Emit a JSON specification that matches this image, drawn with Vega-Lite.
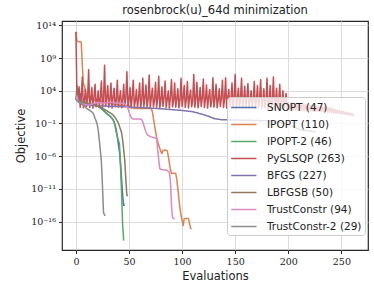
{
"$schema":"https://vega.github.io/schema/vega-lite/v6.json",
"width":306,"height":229,
"autosize":{"type":"none"},
"padding":{"left":62,"top":21,"right":6,"bottom":45},
"title":{"text":"rosenbrock(u)_64d minimization","fontSize":11.5,"font":"DejaVu Sans","fontWeight":"normal","color":"#222222","offset":4},
"datasets":{
"names":[{"k":"a","label":"SNOPT (47)"},{"k":"b","label":"IPOPT (110)"},{"k":"c","label":"IPOPT-2 (46)"},{"k":"d","label":"PySLSQP (263)"},{"k":"e","label":"BFGS (227)"},{"k":"f","label":"LBFGSB (50)"},{"k":"g","label":"TrustConstr (94)"},{"k":"h","label":"TrustConstr-2 (29)"}],
"runs":[
{"x":0,"a":2.6,"b":13,"c":2.6,"d":13,"e":2.6,"f":2.6,"g":2.6,"h":2.6},
{"x":1,"a":3.3,"b":11.6,"c":4.8,"d":3.0,"e":3.0,"f":3.4,"g":3.2,"h":2.5},
{"x":2,"a":4.3,"b":11.5,"c":2.7,"d":2.6,"e":2.3,"f":2.8,"g":2.4,"h":2.4},
{"x":3,"a":2.5,"b":11.5,"c":3.5,"d":4.6,"e":2.2,"f":2.5,"g":2.3,"h":2.3},
{"x":4,"a":3.6,"b":11.5,"c":2.4,"d":1.5,"e":2.1,"f":2.45,"g":2.2,"h":2.2},
{"x":5,"a":2.3,"b":11.4,"c":2.3,"d":2.8,"e":2.0,"f":2.4,"g":2.15,"h":2.1},
{"x":6,"a":2.25,"b":8.0,"c":2.3,"d":6.1,"e":1.95,"f":2.35,"g":2.1,"h":2.0},
{"x":7,"a":2.2,"b":5.0,"c":2.2,"d":1.4,"e":1.9,"f":2.3,"g":2.0,"h":1.85},
{"x":8,"a":2.15,"b":4.8,"c":2.2,"d":2.6,"e":1.85,"f":2.25,"g":1.95,"h":1.7},
{"x":9,"a":2.1,"b":3.8,"c":2.1,"d":4.2,"e":1.82,"f":2.2,"g":1.9,"h":1.5},
{"x":10,"a":2.05,"b":3.2,"c":2.05,"d":1.6,"e":1.8,"f":2.15,"g":1.85,"h":1.3},
{"x":11,"a":2.0,"b":3.0,"c":2.0,"d":2.9,"e":1.79,"f":2.1,"g":1.82,"h":1.2},
{"x":12,"a":1.98,"b":3.3,"c":2.0,"d":7.2,"e":1.78,"f":2.05,"g":1.8,"h":1.1},
{"x":13,"a":1.95,"b":2.9,"c":1.95,"d":1.45,"e":1.77,"f":2.0,"g":1.85,"h":1.0},
{"x":14,"a":1.92,"b":2.8,"c":1.9,"d":2.7,"e":1.76,"f":1.95,"g":1.9,"h":0.9},
{"x":15,"a":1.9,"b":2.7,"c":1.9,"d":4.5,"e":1.75,"f":1.9,"g":1.95,"h":0.77},
{"x":16,"a":1.88,"b":2.7,"c":1.85,"d":1.35,"e":1.74,"f":1.88,"g":2.0,"h":0.6},
{"x":17,"a":1.85,"b":2.6,"c":1.8,"d":3.0,"e":1.73,"f":1.85,"g":2.05,"h":0.3},
{"x":18,"a":1.83,"b":2.6,"c":1.8,"d":5.0,"e":1.72,"f":1.82,"g":2.1,"h":-0.24},
{"x":19,"a":1.8,"b":2.5,"c":1.75,"d":1.55,"e":1.71,"f":1.8,"g":2.15,"h":-0.6},
{"x":20,"a":1.75,"b":2.5,"c":1.7,"d":2.5,"e":1.7,"f":1.75,"g":2.2,"h":-1.1},
{"x":21,"a":1.65,"b":2.45,"c":1.6,"d":4.0,"e":1.7,"f":1.7,"g":2.2,"h":-2.0},
{"x":22,"a":1.5,"b":2.4,"c":1.5,"d":1.5,"e":1.69,"f":1.62,"g":2.2,"h":-3.5},
{"x":23,"a":1.4,"b":2.4,"c":1.4,"d":2.8,"e":1.69,"f":1.55,"g":2.2,"h":-5.1},
{"x":24,"a":1.3,"b":2.35,"c":1.25,"d":5.5,"e":1.68,"f":1.45,"g":2.2,"h":-6.8},
{"x":25,"a":1.15,"b":2.3,"c":1.1,"d":1.4,"e":1.68,"f":1.35,"g":2.15,"h":-10.5},
{"x":26,"a":1.0,"b":2.3,"c":1.0,"d":2.6,"e":1.67,"f":1.25,"g":2.15,"h":-14.6},
{"x":27,"a":0.85,"b":2.25,"c":0.85,"d":7.9,"e":1.67,"f":1.15,"g":2.15,"h":-15.0},
{"x":28,"a":0.7,"b":2.2,"c":0.7,"d":1.6,"e":1.66,"f":1.05,"g":2.15,"h":-15.05},
{"x":29,"a":0.55,"b":2.2,"c":0.55,"d":2.9,"e":1.66,"f":0.95,"g":2.15},
{"x":30,"a":0.4,"b":2.15,"c":0.4,"d":4.8,"e":1.65,"f":0.85,"g":2.2},
{"x":31,"a":0.25,"b":2.1,"c":0.3,"d":1.45,"e":1.65,"f":0.75,"g":2.2},
{"x":32,"a":0.1,"b":2.1,"c":0.15,"d":2.7,"e":1.64,"f":0.65,"g":2.2},
{"x":33,"a":-0.05,"b":2.05,"c":0.0,"d":5.2,"e":1.64,"f":0.55,"g":2.2},
{"x":34,"a":-0.25,"b":2.0,"c":-0.2,"d":1.35,"e":1.63,"f":0.45,"g":2.2},
{"x":35,"a":-0.45,"b":2.0,"c":-0.4,"d":3.0,"e":1.63,"f":0.3,"g":2.2},
{"x":36,"a":-0.8,"b":1.95,"c":-0.8,"d":4.4,"e":1.62,"f":0.1,"g":2.15},
{"x":37,"a":-1.3,"b":1.9,"c":-1.5,"d":1.55,"e":1.62,"f":-0.1,"g":2.15},
{"x":38,"a":-2.0,"b":1.9,"c":-2.3,"d":2.5,"e":1.61,"f":-0.35,"g":2.1},
{"x":39,"a":-3.0,"b":1.85,"c":-3.0,"d":5.6,"e":1.61,"f":-0.65,"g":2.1},
{"x":40,"a":-4.2,"b":1.85,"c":-3.6,"d":1.5,"e":1.6,"f":-0.95,"g":2.1},
{"x":41,"a":-5.3,"b":1.8,"c":-4.1,"d":2.8,"e":1.59,"f":-1.4,"g":2.1},
{"x":42,"a":-7.0,"b":1.8,"c":-7.5,"d":4.0,"e":1.58,"f":-1.9,"g":2.05},
{"x":43,"a":-9.5,"b":1.8,"c":-11.5,"d":1.4,"e":1.58,"f":-2.4,"g":2.05},
{"x":44,"a":-12.0,"b":1.8,"c":-16.5,"d":2.6,"e":1.57,"f":-3.5,"g":2.05},
{"x":45,"a":-13.5,"b":1.8,"c":-18.9,"d":5.0,"e":1.56,"f":-5.0,"g":2.05},
{"x":46,"a":-13.5,"b":1.8,"d":1.6,"e":1.55,"f":-6.6,"g":2.0},
{"x":47,"b":1.75,"d":2.9,"e":1.54,"f":-9.5,"g":1.8},
{"x":48,"b":1.75,"d":6.9,"e":1.54,"f":-12.0,"g":1.5},
{"x":49,"b":1.7,"d":1.45,"e":1.53,"f":-12.0,"g":1.3},
{"x":50,"b":1.7,"d":2.7,"e":1.52,"g":0.8},
{"x":51,"b":1.6,"d":4.5,"e":1.51,"g":0.3},
{"x":52,"b":1.5,"d":1.35,"e":1.5,"g":-0.1},
{"x":53,"b":1.4,"d":3.0,"e":1.5,"g":-0.25},
{"x":54,"b":1.35,"d":5.6,"e":1.49,"g":-0.3},
{"x":55,"b":1.3,"d":1.55,"e":1.48,"g":-0.3},
{"x":56,"b":1.3,"d":2.5,"e":1.47,"g":-0.3},
{"x":57,"b":1.3,"d":4.2,"e":1.46,"g":-0.3},
{"x":58,"b":1.3,"d":1.5,"e":1.46,"g":-0.3},
{"x":59,"b":1.3,"d":2.8,"e":1.45,"g":-0.3},
{"x":60,"b":1.3,"d":5.2,"e":1.44,"g":-0.3},
{"x":61,"b":1.3,"d":1.4,"e":1.43,"g":-0.35},
{"x":62,"b":1.3,"d":2.6,"e":1.42,"g":-0.4},
{"x":63,"b":1.3,"d":5.9,"e":1.41,"g":-0.76},
{"x":64,"b":1.3,"d":1.6,"e":1.4,"g":-1.3},
{"x":65,"b":1.3,"d":2.9,"e":1.39,"g":-1.8},
{"x":66,"b":1.3,"d":4.9,"e":1.38,"g":-2.3},
{"x":67,"b":1.3,"d":1.45,"e":1.37,"g":-2.6},
{"x":68,"b":1.3,"d":2.7,"e":1.36,"g":-2.8},
{"x":69,"b":1.3,"d":6.4,"e":1.35,"g":-2.9},
{"x":70,"b":1.3,"d":1.35,"e":1.35,"g":-3.0},
{"x":71,"b":1.3,"d":3.0,"e":1.34,"g":-3.05},
{"x":72,"b":0.8,"d":4.4,"e":1.33,"g":-3.1},
{"x":73,"b":-0.2,"d":1.55,"e":1.32,"g":-3.15},
{"x":74,"b":-1.26,"d":2.5,"e":1.31,"g":-3.2},
{"x":75,"b":-2.2,"d":5.3,"e":1.3,"g":-3.25},
{"x":76,"b":-3.1,"d":1.5,"e":1.29,"g":-3.3},
{"x":77,"b":-3.8,"d":2.8,"e":1.28,"g":-5.0},
{"x":78,"b":-4.3,"d":6.2,"e":1.27,"g":-6.5},
{"x":79,"b":-4.8,"d":1.4,"e":1.26,"g":-7.9},
{"x":80,"b":-5.3,"d":2.6,"e":1.25,"g":-8.0},
{"x":81,"b":-5.6,"d":4.6,"e":1.24,"g":-8.05},
{"x":82,"b":-5.1,"d":1.6,"e":1.23,"g":-8.05},
{"x":83,"b":-5.1,"d":2.9,"e":1.21,"g":-8.05},
{"x":84,"b":-5.1,"d":5.5,"e":1.2,"g":-8.1},
{"x":85,"b":-5.1,"d":1.45,"e":1.19,"g":-8.1},
{"x":86,"b":-5.15,"d":2.7,"e":1.18,"g":-8.2},
{"x":87,"b":-6.0,"d":4.0,"e":1.16,"g":-8.3},
{"x":88,"b":-7.0,"d":1.35,"e":1.15,"g":-8.5},
{"x":89,"b":-8.0,"d":3.0,"e":1.14,"g":-9.7},
{"x":90,"b":-8.66,"d":5.7,"e":1.13,"g":-13.5},
{"x":91,"b":-8.6,"d":1.55,"e":1.11,"g":-15.4},
{"x":92,"b":-8.6,"d":2.5,"e":1.1,"g":-15.5},
{"x":93,"b":-8.6,"d":5.2,"e":1.09,"g":-15.6},
{"x":94,"b":-8.65,"d":1.5,"e":1.08},
{"x":95,"b":-9.5,"d":2.8,"e":1.06},
{"x":96,"b":-11.0,"d":4.3,"e":1.05},
{"x":97,"b":-12.5,"d":1.4,"e":1.04},
{"x":98,"b":-14.0,"d":2.6,"e":1.03},
{"x":99,"b":-15.0,"d":5.9,"e":1.01},
{"x":100,"b":-15.8,"d":1.6,"e":1.0},
{"x":101,"b":-16.6,"d":2.9,"e":0.98},
{"x":102,"b":-15.55,"d":4.8,"e":0.96},
{"x":103,"b":-15.5,"d":1.45,"e":0.94},
{"x":104,"b":-15.5,"d":2.7,"e":0.92},
{"x":105,"b":-15.5,"d":5.4,"e":0.9},
{"x":106,"b":-15.55,"d":1.35,"e":0.88},
{"x":107,"b":-16.3,"d":3.0,"e":0.86},
{"x":108,"b":-17.0,"d":4.1,"e":0.84},
{"x":109,"b":-17.1,"d":1.55,"e":0.82},
{"x":110,"d":2.5,"e":0.8},
{"x":111,"d":6.5,"e":0.76},
{"x":112,"d":1.5,"e":0.71},
{"x":113,"d":2.8,"e":0.67},
{"x":114,"d":5.3,"e":0.63},
{"x":115,"d":1.4,"e":0.59},
{"x":116,"d":2.6,"e":0.54},
{"x":117,"d":4.5,"e":0.5},
{"x":118,"d":1.6,"e":0.45},
{"x":119,"d":2.9,"e":0.4},
{"x":120,"d":5.8,"e":0.35},
{"x":121,"d":1.45,"e":0.3},
{"x":122,"d":2.7,"e":0.25},
{"x":123,"d":4.9,"e":0.2},
{"x":124,"d":1.35,"e":0.15},
{"x":125,"d":3.0,"e":0.1},
{"x":126,"d":4.2,"e":0.03},
{"x":127,"d":1.55,"e":-0.04},
{"x":128,"d":2.5,"e":-0.1},
{"x":129,"d":6.0,"e":-0.17},
{"x":130,"d":1.5,"e":-0.24},
{"x":131,"d":2.8,"e":-0.27},
{"x":132,"d":5.0,"e":-0.29},
{"x":133,"d":1.4,"e":-0.32},
{"x":134,"d":2.6,"e":-0.35},
{"x":135,"d":4.3,"e":-0.37},
{"x":136,"d":1.6,"e":-0.4},
{"x":137,"d":2.9,"e":-0.41},
{"x":138,"d":5.6,"e":-0.41},
{"x":139,"d":1.45,"e":-0.42},
{"x":140,"d":2.7,"e":-0.42},
{"x":141,"d":6.0,"e":-0.43},
{"x":142,"d":1.35,"e":-0.43},
{"x":143,"d":3.0,"e":-0.44},
{"x":144,"d":4.2,"e":-0.44},
{"x":145,"d":1.55,"e":-0.45},
{"x":146,"d":2.5,"e":-0.45},
{"x":147,"d":5.2,"e":-0.46},
{"x":148,"d":1.5,"e":-0.46},
{"x":149,"d":2.8,"e":-0.46},
{"x":150,"d":6.5,"e":-0.47},
{"x":151,"d":1.4,"e":-0.47},
{"x":152,"d":2.6,"e":-0.47},
{"x":153,"d":4.4,"e":-0.48},
{"x":154,"d":1.55,"e":-0.48},
{"x":155,"d":2.8,"e":-0.48},
{"x":156,"d":5.9,"e":-0.49},
{"x":157,"d":1.4,"e":-0.49},
{"x":158,"d":2.55,"e":-0.49},
{"x":159,"d":4.7,"e":-0.5},
{"x":160,"d":1.5,"e":-0.5},
{"x":161,"d":2.75,"e":-0.51},
{"x":162,"d":5.1,"e":-0.51},
{"x":163,"d":1.35,"e":-0.52},
{"x":164,"d":2.6,"e":-0.52},
{"x":165,"d":4.0,"e":-0.53},
{"x":166,"d":1.45,"e":-0.53},
{"x":167,"d":2.7,"e":-0.54},
{"x":168,"d":5.4,"e":-0.54},
{"x":169,"d":1.3,"e":-0.55},
{"x":170,"d":2.55,"e":-0.55},
{"x":171,"d":4.8,"e":-0.56},
{"x":172,"d":1.4,"e":-0.56},
{"x":173,"d":2.65,"e":-0.57},
{"x":174,"d":5.7,"e":-0.57},
{"x":175,"d":1.25,"e":-0.58},
{"x":176,"d":2.5,"e":-0.58},
{"x":177,"d":4.3,"e":-0.59},
{"x":178,"d":1.35,"e":-0.59},
{"x":179,"d":2.6,"e":-0.6},
{"x":180,"d":5.9,"e":-0.6},
{"x":181,"d":1.2,"e":-0.62},
{"x":182,"d":2.45,"e":-0.64},
{"x":183,"d":4.8,"e":-0.66},
{"x":184,"d":1.3,"e":-0.68},
{"x":185,"d":2.5,"e":-0.7},
{"x":186,"d":6.1,"e":-0.72},
{"x":187,"d":1.2,"e":-0.74},
{"x":188,"d":2.4,"e":-0.76},
{"x":189,"d":4.4,"e":-0.78},
{"x":190,"d":1.25,"e":-0.8},
{"x":191,"d":2.45,"e":-0.83},
{"x":192,"d":5.0,"e":-0.87},
{"x":193,"d":1.15,"e":-0.9},
{"x":194,"d":2.35,"e":-0.93},
{"x":195,"d":4.0,"e":-0.97},
{"x":196,"d":1.2,"e":-1.0},
{"x":197,"d":2.3,"e":-1.06},
{"x":198,"d":3.6,"e":-1.11},
{"x":199,"d":1.15,"e":-1.17},
{"x":200,"d":2.2,"e":-1.22},
{"x":201,"d":1.1,"e":-1.28},
{"x":202,"d":2.16,"e":-1.33},
{"x":203,"d":1.08,"e":-1.39},
{"x":204,"d":2.12,"e":-1.44},
{"x":205,"d":1.06,"e":-1.5},
{"x":206,"d":2.08,"e":-1.58},
{"x":207,"d":1.04,"e":-1.66},
{"x":208,"d":2.04,"e":-1.74},
{"x":209,"d":1.02,"e":-1.82},
{"x":210,"d":2.0,"e":-1.9},
{"x":211,"d":1.0,"e":-1.93},
{"x":212,"d":1.97,"e":-1.95},
{"x":213,"d":0.98,"e":-1.98},
{"x":214,"d":1.93,"e":-2.0},
{"x":215,"d":0.96,"e":-2.03},
{"x":216,"d":1.89,"e":-2.05},
{"x":217,"d":0.94,"e":-2.08},
{"x":218,"d":1.85,"e":-2.1},
{"x":219,"d":0.92,"e":-2.13},
{"x":220,"d":1.81,"e":-2.15},
{"x":221,"d":0.9,"e":-2.18},
{"x":222,"d":1.77,"e":-2.2},
{"x":223,"d":0.88,"e":-2.23},
{"x":224,"d":1.73,"e":-2.25},
{"x":225,"d":0.86,"e":-2.28},
{"x":226,"d":1.69,"e":-2.3},
{"x":227,"d":0.85},{"x":228,"d":1.66},{"x":229,"d":0.83},{"x":230,"d":1.62},
{"x":231,"d":0.82},{"x":232,"d":1.58},{"x":233,"d":0.8},{"x":234,"d":1.54},
{"x":235,"d":0.78},{"x":236,"d":1.5},{"x":237,"d":0.75},{"x":238,"d":1.42},
{"x":239,"d":0.7},{"x":240,"d":1.33},{"x":241,"d":0.66},{"x":242,"d":1.25},
{"x":243,"d":0.61},{"x":244,"d":1.16},{"x":245,"d":0.57},{"x":246,"d":1.08},
{"x":247,"d":0.53},{"x":248,"d":1.0},{"x":249,"d":0.48},{"x":250,"d":0.91},
{"x":251,"d":0.44},{"x":252,"d":0.83},{"x":253,"d":0.4},{"x":254,"d":0.74},
{"x":255,"d":0.35},{"x":256,"d":0.66},{"x":257,"d":0.31},{"x":258,"d":0.57},
{"x":259,"d":0.26},{"x":260,"d":0.49},{"x":261,"d":0.22},{"x":262,"d":0.4}
]},
"data":{"name":"runs"},
"transform":[
{"fold":["a","b","c","d","e","f","g","h"],"as":["k","v"]},
{"filter":"isValid(datum.v)"},
{"lookup":"k","from":{"data":{"name":"names"},"key":"k","fields":["label"]}}
],
"mark":{"type":"line","strokeWidth":1.5,"strokeJoin":"round","clip":true},
"encoding":{
"x":{"field":"x","type":"quantitative","scale":{"domain":[-13.1,275.1],"nice":false,"zero":false},"axis":{"values":[0,50,100,150,200,250],"title":"Evaluations"}},
"y":{"field":"v","type":"quantitative","scale":{"domain":[-20.33,14.66],"nice":false,"zero":false},"axis":{"values":[-16,-11,-6,-1,4,9,14],"title":"Objective","labelExpr":"'10' + (datum.value == 14 ? '¹⁴' : datum.value == 9 ? '⁹' : datum.value == 4 ? '⁴' : datum.value == -1 ? '⁻¹' : datum.value == -6 ? '⁻⁶' : datum.value == -11 ? '⁻¹¹' : '⁻¹⁶')"}},
"color":{"field":"label","type":"nominal","scale":{"domain":["SNOPT (47)","IPOPT (110)","IPOPT-2 (46)","PySLSQP (263)","BFGS (227)","LBFGSB (50)","TrustConstr (94)","TrustConstr-2 (29)"],"range":["#4C72B0","#DD8452","#55A868","#C44E52","#8172B3","#937860","#DA8BC3","#8C8C8C"]},
"legend":{"orient":"none","legendX":165,"legendY":76,"title":null,"symbolType":"M-1,0H3","symbolSize":160,"symbolStrokeWidth":1.5,"labelFont":"DejaVu Sans","labelFontSize":10.5,"labelColor":"#222222","labelOffset":22,"padding":3,"rowPadding":4,"strokeColor":"#cccccc","fillColor":"rgba(255,255,255,0.8)","cornerRadius":3}}
},
"config":{
"view":{"stroke":"#262626","strokeWidth":1.2},
"axis":{"grid":true,"gridColor":"#dcdcdc","gridWidth":1,"domain":false,"tickColor":"#262626","tickSize":3.5,"tickWidth":1,"labelFont":"DejaVu Serif","labelFontSize":9.5,"labelColor":"#222222","titleFont":"DejaVu Sans","titleFontSize":11.5,"titleFontWeight":"normal","titleColor":"#222222","labelPadding":3}
}
}
